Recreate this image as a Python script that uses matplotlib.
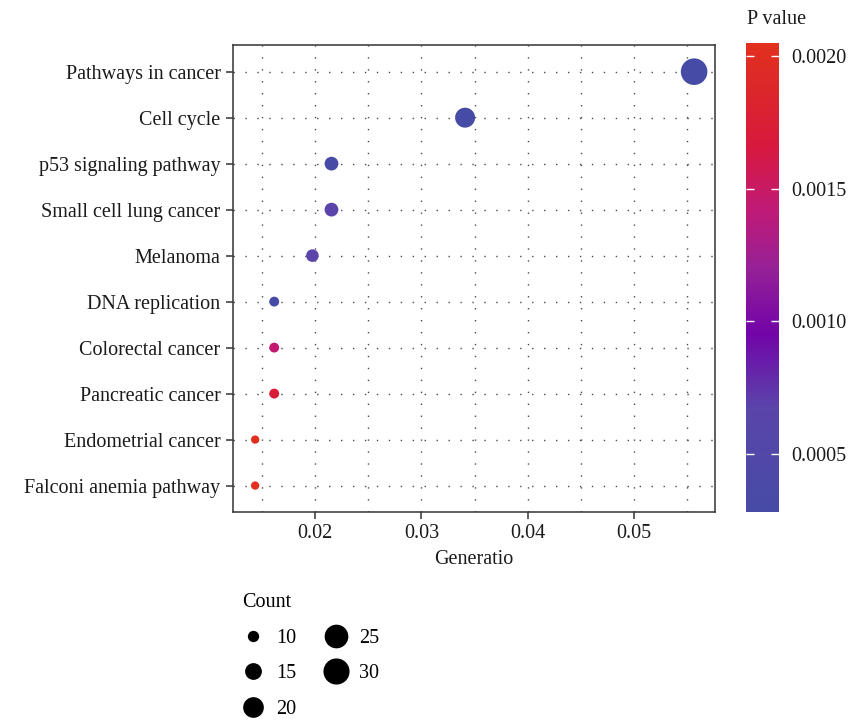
import numpy as np
import matplotlib
matplotlib.use("Agg")
import matplotlib.pyplot as plt
from matplotlib.colors import LinearSegmentedColormap, Normalize
from matplotlib.lines import Line2D
from matplotlib.ticker import MultipleLocator

plt.rcParams['font.family'] = ['Liberation Serif', 'DejaVu Serif']

# KEGG pathway enrichment results (top to bottom)
pathways = [
    "Pathways in cancer", "Cell cycle", "p53 signaling pathway",
    "Small cell lung cancer", "Melanoma", "DNA replication",
    "Colorectal cancer", "Pancreatic cancer", "Endometrial cancer",
    "Falconi anemia pathway",
]
gene_count = [31, 19, 12, 12, 11, 9, 9, 9, 8, 8]
total_genes = 557
p_value = [0.00028, 0.00029, 0.00030, 0.00068, 0.00068, 0.00031,
           0.00145, 0.00172, 0.00200, 0.00205]
legend_counts = [10, 15, 20, 25, 30]
cbar_ticks = [0.0005, 0.0010, 0.0015, 0.0020]

DPI = 100
FS = 14.5
TXT = "#1a1a1a"
fig = plt.figure(figsize=(8.5, 7.2), dpi=DPI)
W, H = 850, 720


def box(x0, y0, x1, y1):
    return [x0 / W, 1 - y1 / H, (x1 - x0) / W, (y1 - y0) / H]


def dot_diameter_px(c):
    return 8.3 + 13.5 * np.log(np.asarray(c, dtype=float) / 8.0)


def marker_area(c):
    d_pt = dot_diameter_px(c) * 72.0 / DPI
    return d_pt ** 2


cmap = LinearSegmentedColormap.from_list(
    "pval",
    [(0.00, "#464ba6"), (0.22, "#5a45aa"), (0.38, "#7204a8"),
     (0.52, "#962196"), (0.64, "#bf1a78"), (0.78, "#d8193f"),
     (0.90, "#dc272a"), (1.00, "#e2301e")],
)
norm = Normalize(vmin=min(p_value), vmax=max(p_value))

ax = fig.add_axes(box(233, 45, 715, 512))
n = len(pathways)
ypos = np.arange(n)[::-1]
ratio = np.array(gene_count) / total_genes

grid_style = dict(color="#4a4a4a", linewidth=1.0, linestyle=(0, (1, 7.6)))
ax.xaxis.set_major_locator(MultipleLocator(0.01))
ax.xaxis.set_minor_locator(MultipleLocator(0.005))
ax.grid(True, axis="x", which="both", **grid_style)
ax.grid(True, axis="y", which="major", **grid_style)
ax.set_axisbelow(True)

ax.scatter(ratio, ypos, s=marker_area(gene_count), c=p_value, cmap=cmap,
           norm=norm, linewidths=0, zorder=3)

ax.set_yticks(ypos)
ax.set_yticklabels(pathways, fontsize=FS, color=TXT)
ax.set_xlim(0.01228, 0.05762)
ax.set_ylim(-0.575, n - 1 + 0.58)
ax.set_xticks([0.02, 0.03, 0.04, 0.05])
ax.set_xticklabels(["0.02", "0.03", "0.04", "0.05"], fontsize=FS, color=TXT)
ax.tick_params(axis="both", which="major", length=5, width=1.1,
               color="#333333", pad=4)
ax.tick_params(axis="x", which="minor", length=0)
ax.set_xlabel("Generatio", fontsize=FS, labelpad=5, color=TXT)
for sp in ax.spines.values():
    sp.set_color("#333333")
    sp.set_linewidth(1.1)

# colour bar for P value
cax = fig.add_axes(box(746, 43, 779, 512))
sm = plt.cm.ScalarMappable(norm=norm, cmap=cmap)
cb = fig.colorbar(sm, cax=cax, ticks=cbar_ticks)
cb.outline.set_visible(False)
cb.ax.set_yticklabels([f"{t:.4f}" for t in cbar_ticks], fontsize=FS,
                      color=TXT)
cax.tick_params(axis="y", direction="in", color="white", length=6,
                width=1.0, left=True, right=True, pad=9)
fig.text(747 / W, 1 - 20 / H, "P value", fontsize=FS, va="center",
         ha="left", color=TXT)

# size legend for gene count
handles = [Line2D([], [], linestyle="none", marker="o", color="black",
                  markeredgewidth=0,
                  markersize=float(dot_diameter_px(c)) * 72.0 / DPI)
           for c in legend_counts]
leg = fig.legend(handles, [str(c) for c in legend_counts], ncol=2,
                 title="Count", loc="upper left",
                 bbox_to_anchor=(224 / W, 1 - 575 / H), frameon=False,
                 fontsize=FS, title_fontsize=FS, labelspacing=0.82,
                 handlelength=1.1, handletextpad=0.6, columnspacing=1.4,
                 alignment="left")

fig.savefig("out.png", dpi=DPI)
